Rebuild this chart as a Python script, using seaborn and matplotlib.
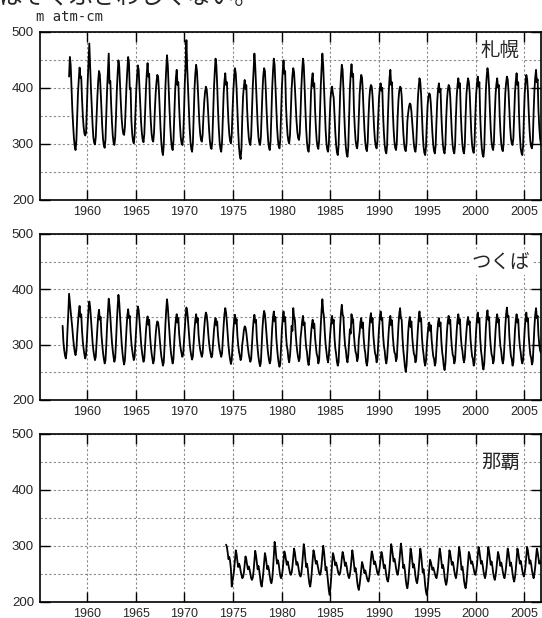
import pandas as pd
import seaborn as sns
import matplotlib.pyplot as plt
from matplotlib.ticker import MultipleLocator

# 月平均オゾン全量 (m atm-cm)、1行 = 1年
sapporo_start = "1958-02"
sapporo_o3 = [
    420, 455, 440, 400, 362, 334, 310, 296, 289, 305, 345,  # 1958 (2月から)
    390, 415, 436, 418, 420, 380, 350, 330, 318, 315, 320, 365,
    410, 445, 479, 440, 400, 368, 335, 312, 302, 299, 312, 350,  # 1960
    385, 412, 430, 424, 395, 362, 330, 308, 297, 293, 308, 352,
    398, 430, 461, 408, 412, 370, 338, 315, 302, 298, 312, 350,
    395, 425, 449, 438, 405, 372, 345, 328, 318, 316, 330, 370,
    405, 432, 455, 445, 398, 400, 342, 318, 305, 301, 315, 355,
    395, 420, 440, 432, 402, 368, 338, 318, 307, 303, 318, 356,  # 1965
    398, 425, 444, 420, 425, 370, 340, 318, 307, 304, 320, 360,
    390, 410, 423, 420, 396, 360, 328, 303, 287, 280, 298, 345,
    400, 432, 458, 440, 402, 365, 332, 308, 294, 289, 305, 350,
    392, 418, 432, 405, 410, 366, 335, 312, 301, 298, 312, 355,
    408, 440, 485, 435, 398, 360, 328, 304, 291, 286, 302, 352,  # 1970
    398, 425, 441, 430, 402, 368, 338, 318, 307, 304, 316, 348,
    375, 392, 402, 398, 380, 352, 325, 305, 294, 291, 305, 350,
    398, 428, 452, 440, 405, 362, 328, 304, 291, 286, 302, 348,
    390, 412, 426, 405, 410, 370, 338, 317, 305, 301, 316, 360,
    395, 420, 435, 425, 398, 360, 322, 294, 279, 273, 292, 345,  # 1975
    385, 402, 414, 398, 405, 362, 333, 312, 302, 298, 314, 358,
    402, 432, 461, 440, 405, 368, 335, 312, 302, 298, 312, 352,
    395, 422, 435, 430, 400, 362, 330, 306, 293, 289, 305, 352,
    400, 430, 452, 440, 404, 365, 330, 308, 296, 292, 308, 355,
    402, 430, 449, 425, 430, 370, 338, 316, 305, 301, 316, 358,  # 1980
    398, 422, 435, 428, 402, 370, 342, 322, 311, 307, 318, 355,
    400, 430, 452, 440, 404, 362, 326, 302, 290, 286, 300, 348,
    392, 415, 426, 402, 408, 360, 328, 306, 295, 291, 306, 355,
    402, 435, 461, 440, 402, 360, 325, 302, 290, 286, 300, 345,
    380, 395, 402, 390, 382, 350, 320, 298, 285, 280, 296, 345,  # 1985
    392, 420, 441, 432, 398, 355, 318, 294, 282, 277, 294, 345,
    398, 424, 442, 420, 425, 362, 330, 307, 296, 292, 306, 350,
    388, 410, 423, 418, 392, 356, 325, 303, 291, 287, 302, 348,
    380, 398, 405, 402, 385, 355, 326, 306, 296, 292, 305, 348,
    382, 400, 408, 395, 400, 352, 320, 298, 287, 283, 298, 350,  # 1990
    392, 418, 432, 405, 410, 360, 326, 304, 293, 289, 303, 348,
    378, 395, 402, 400, 385, 350, 320, 300, 290, 287, 300, 340,
    355, 366, 372, 370, 358, 338, 316, 300, 290, 286, 298, 340,
    380, 402, 417, 410, 388, 352, 318, 295, 284, 280, 294, 335,
    368, 384, 390, 388, 372, 345, 318, 298, 287, 283, 298, 342,  # 1995
    378, 398, 408, 392, 398, 352, 320, 298, 287, 283, 298, 345,
    378, 396, 405, 402, 384, 350, 318, 297, 287, 283, 298, 348,
    385, 405, 417, 400, 408, 356, 322, 299, 287, 283, 298, 350,
    388, 405, 417, 410, 392, 355, 320, 298, 288, 284, 300, 352,
    388, 408, 420, 402, 410, 350, 315, 292, 281, 277, 292, 345,  # 2000
    395, 420, 435, 425, 400, 360, 326, 304, 293, 289, 304, 352,
    388, 406, 417, 400, 405, 354, 322, 301, 290, 287, 302, 350,
    390, 408, 420, 415, 394, 360, 330, 310, 301, 298, 310, 352,
    392, 412, 426, 405, 410, 352, 316, 293, 284, 280, 296, 348,
    390, 410, 423, 416, 392, 356, 325, 304, 295, 292, 306, 355,  # 2005
    395, 418, 432, 410, 415, 360, 330, 310, 300,
]

tsukuba_start = "1957-06"
tsukuba_o3 = [
    334, 305, 290, 280, 275, 288, 325,  # 1957 (6月から)
    355, 392, 375, 360, 345, 330, 312, 298, 287, 281, 290, 318,
    340, 358, 370, 350, 355, 325, 305, 292, 282, 275, 282, 308,
    338, 362, 378, 368, 348, 325, 305, 290, 280, 272, 278, 305,  # 1960
    330, 352, 363, 345, 350, 318, 300, 285, 274, 266, 272, 300,
    335, 360, 383, 370, 350, 325, 304, 289, 277, 269, 276, 305,
    340, 368, 390, 376, 352, 325, 302, 285, 272, 264, 272, 302,
    330, 352, 364, 348, 352, 322, 303, 290, 280, 272, 278, 305,
    335, 356, 369, 362, 344, 322, 302, 288, 277, 269, 275, 300,  # 1965
    325, 342, 351, 336, 345, 316, 298, 284, 274, 266, 272, 296,
    318, 334, 342, 340, 328, 310, 293, 279, 270, 262, 268, 298,
    335, 362, 382, 368, 346, 322, 300, 284, 274, 266, 274, 305,
    330, 346, 355, 340, 348, 320, 304, 292, 284, 278, 283, 306,
    332, 352, 367, 360, 343, 322, 303, 289, 280, 273, 279, 304,  # 1970
    328, 345, 355, 340, 348, 318, 302, 291, 284, 278, 284, 308,
    330, 348, 358, 354, 340, 320, 303, 291, 283, 277, 282, 305,
    325, 340, 348, 335, 342, 317, 302, 291, 284, 278, 284, 310,
    335, 355, 366, 358, 340, 318, 298, 283, 273, 265, 272, 300,
    325, 344, 354, 338, 346, 316, 299, 287, 279, 272, 278, 300,  # 1975
    312, 326, 333, 331, 322, 308, 294, 283, 275, 269, 274, 300,
    325, 344, 354, 340, 345, 312, 293, 278, 268, 261, 268, 298,
    330, 350, 361, 355, 338, 317, 298, 283, 273, 266, 272, 300,
    330, 350, 360, 342, 350, 314, 294, 278, 267, 260, 266, 298,
    328, 348, 360, 342, 350, 318, 299, 290, 275, 268, 280, 302,  # 1980
    334, 325, 366, 350, 345, 320, 301, 287, 277, 270, 276, 312,
    325, 342, 352, 335, 340, 313, 295, 286, 270, 263, 275, 298,
    320, 336, 345, 330, 338, 312, 296, 283, 278, 266, 272, 305,
    335, 362, 382, 360, 350, 322, 300, 288, 275, 268, 280, 305,
    326, 342, 352, 338, 345, 312, 293, 283, 269, 262, 268, 300,  # 1985
    335, 358, 372, 355, 350, 320, 299, 290, 275, 268, 280, 303,
    328, 320, 355, 340, 346, 317, 299, 287, 282, 270, 276, 310,
    322, 340, 348, 330, 340, 312, 294, 285, 269, 262, 272, 298,
    328, 347, 357, 340, 348, 317, 299, 285, 280, 268, 274, 302,
    330, 350, 360, 345, 348, 317, 298, 289, 273, 266, 276, 300,  # 1990
    325, 343, 352, 335, 344, 315, 298, 286, 283, 270, 276, 305,
    335, 355, 366, 348, 345, 312, 290, 276, 260, 251, 262, 290,
    322, 340, 350, 332, 342, 314, 297, 284, 280, 268, 274, 300,
    328, 348, 360, 342, 348, 314, 294, 283, 269, 262, 270, 298,
    318, 333, 340, 325, 335, 309, 292, 279, 274, 262, 268, 296,  # 1995
    322, 340, 348, 333, 340, 306, 287, 276, 261, 254, 265, 294,
    325, 343, 352, 338, 345, 314, 296, 282, 278, 266, 272, 300,
    326, 345, 355, 338, 346, 316, 298, 289, 275, 268, 276, 302,
    324, 341, 350, 336, 342, 311, 293, 279, 274, 262, 268, 298,
    326, 347, 358, 340, 348, 311, 289, 278, 262, 255, 265, 295,  # 2000
    330, 351, 362, 345, 350, 317, 297, 283, 278, 266, 272, 300,
    326, 345, 355, 340, 346, 315, 297, 288, 273, 266, 274, 300,
    332, 354, 367, 350, 352, 316, 295, 279, 274, 262, 268, 298,
    326, 345, 355, 340, 346, 315, 297, 287, 273, 266, 272, 300,
    328, 347, 358, 342, 348, 315, 296, 281, 276, 264, 270, 300,  # 2005
    332, 354, 366, 348, 352, 318, 300, 290, 285,
]

naha_start = "1974-04"
naha_o3 = [
    302, 298, 288, 276, 280, 272, 258, 227, 238,  # 1974 (4月から)
    246, 258, 275, 292, 285, 272, 262, 268, 264, 255, 248, 242,  # 1975
    244, 252, 266, 281, 276, 266, 258, 263, 258, 250, 242, 239,
    243, 255, 272, 291, 283, 270, 258, 264, 256, 244, 232, 227,
    238, 252, 270, 287, 280, 268, 258, 264, 257, 246, 237, 233,
    240, 258, 283, 307, 296, 280, 268, 274, 268, 256, 246, 242,
    246, 258, 275, 290, 285, 275, 266, 272, 266, 258, 251, 248,  # 1980
    252, 263, 280, 295, 288, 276, 266, 271, 265, 255, 248, 245,
    250, 265, 285, 303, 293, 276, 262, 268, 258, 243, 232, 227,
    238, 255, 275, 292, 286, 276, 268, 273, 266, 258, 251, 248,
    252, 265, 284, 300, 290, 272, 256, 262, 250, 234, 220, 212,
    225, 245, 268, 287, 282, 273, 265, 270, 264, 256, 250, 248,  # 1985
    252, 262, 277, 289, 283, 273, 264, 270, 263, 253, 246, 242,
    248, 260, 277, 292, 282, 268, 254, 260, 250, 236, 226, 221,
    230, 243, 258, 271, 266, 258, 251, 256, 250, 243, 238, 236,
    244, 258, 276, 290, 285, 275, 267, 272, 266, 258, 251, 248,
    254, 264, 278, 289, 283, 271, 260, 266, 258, 247, 239, 236,  # 1990
    244, 260, 282, 303, 295, 283, 272, 277, 270, 260, 252, 248,
    256, 270, 288, 304, 293, 276, 260, 266, 255, 240, 229, 224,
    234, 252, 275, 295, 287, 274, 261, 267, 259, 246, 237, 233,
    242, 258, 278, 295, 284, 268, 252, 258, 247, 230, 218, 212,
    222, 240, 260, 275, 271, 264, 257, 261, 256, 250, 245, 242,  # 1995
    250, 262, 280, 295, 286, 273, 260, 266, 258, 244, 235, 230,
    238, 254, 274, 292, 286, 276, 266, 271, 265, 255, 247, 242,
    250, 264, 282, 298, 288, 272, 257, 263, 253, 238, 229, 224,
    234, 252, 272, 289, 284, 275, 268, 272, 266, 258, 251, 248,
    254, 265, 283, 298, 291, 279, 268, 273, 266, 255, 247, 242,  # 2000
    250, 262, 281, 298, 290, 278, 266, 272, 264, 252, 244, 239,
    246, 258, 274, 289, 283, 273, 264, 270, 263, 253, 246, 242,
    250, 262, 279, 295, 288, 276, 264, 270, 262, 250, 241, 236,
    244, 258, 277, 295, 288, 278, 268, 273, 266, 256, 249, 245,
    252, 264, 281, 298, 291, 280, 268, 274, 267, 256, 248, 242,  # 2005
    250, 262, 280, 295, 288, 278, 268, 272, 268,
]

station_names = ["札幌", "つくば", "那覇"]
station_starts = [sapporo_start, tsukuba_start, naha_start]
station_series = [sapporo_o3, tsukuba_o3, naha_o3]
label_pos = [(0.958, 0.888), (0.978, 0.828), (0.958, 0.830)]

year_ticks = list(range(1960, 2006, 5))
o3_ticks = [200, 300, 400, 500]


def monthly_frame(start, values):
    dates = pd.date_range(start, periods=len(values), freq="MS")
    return pd.DataFrame({"year": dates.year + (dates.month - 0.5) / 12,
                         "o3": values})


sns.set_theme(style="white", rc={"xtick.direction": "in", "ytick.direction": "in"})
plt.rcParams["font.family"] = ["Liberation Sans", "Noto Sans CJK JP", "DejaVu Sans"]

fig = plt.figure(figsize=(5.42, 6.18), dpi=100)

# パネル位置 (figure 座標)
left, width = 39.5 / 542, 501.5 / 542
panel_boxes = [(0.6764, 0.2723), (0.3528, 0.2686), (0.02638, 0.2714)]

for name, start, values, (lx, ly), (bottom, height) in zip(
        station_names, station_starts, station_series, label_pos, panel_boxes):
    ax = fig.add_axes([left, bottom, width, height])
    df = monthly_frame(start, values)
    sns.lineplot(data=df, x="year", y="o3", ax=ax, color="black", linewidth=1.3)

    ax.set_xlim(1955.08, 2006.72)
    ax.set_ylim(200, 500)
    ax.set_xticks(year_ticks)
    ax.set_yticks(o3_ticks)
    ax.yaxis.set_minor_locator(MultipleLocator(50))
    ax.set_xlabel("")
    ax.set_ylabel("")

    ax.grid(True, which="major", axis="x", color="#8a8a8a", linestyle=(0, (2, 2)), linewidth=0.8)
    ax.grid(True, which="both", axis="y", color="#8a8a8a", linestyle=(0, (2, 2)), linewidth=0.8)
    ax.set_axisbelow(True)

    ax.tick_params(axis="both", which="major", length=7, width=1, color="black",
                   top=True, right=True, bottom=True, left=True, labelsize=9, pad=4.5)
    ax.tick_params(axis="y", which="major", labelsize=9.5, pad=4)
    ax.tick_params(axis="y", which="minor", length=0)

    for sp in ax.spines.values():
        sp.set_color("black")
        sp.set_linewidth(1.2)

    ax.text(lx, ly, name, transform=ax.transAxes, ha="right", va="center",
            fontsize=14, family=["Noto Sans CJK JP"],
            bbox=dict(facecolor="white", edgecolor="none", pad=1.5))

fig.text(36 / 542, 1 - 21 / 618, "m atm-cm", fontsize=10,
         family=["DejaVu Sans Mono"], ha="left", va="baseline")
fig.text(-2 / 542, 1 - 4 / 618, "はそくふさわしくない。", fontsize=17,
         family=["Noto Sans CJK JP"], ha="left", va="baseline")

fig.savefig("out.png", dpi=100)
